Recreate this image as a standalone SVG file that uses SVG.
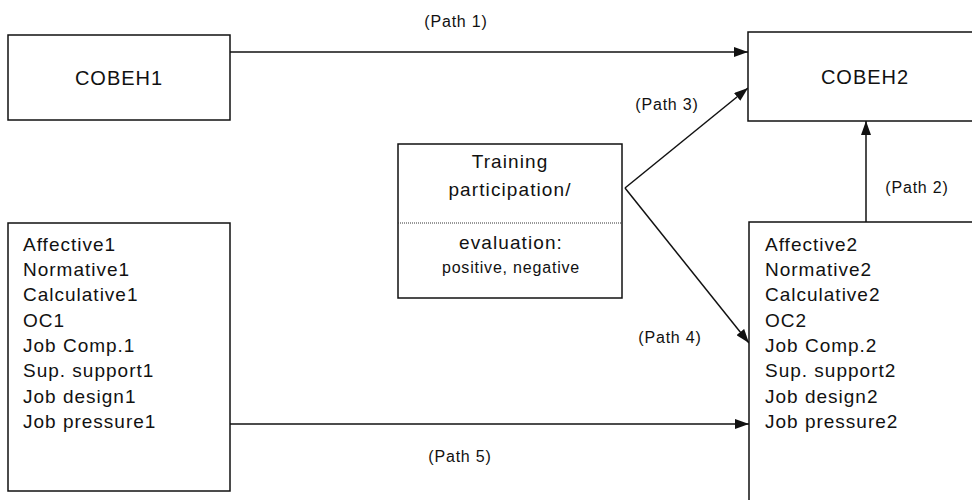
<svg xmlns="http://www.w3.org/2000/svg" width="972" height="500" viewBox="0 0 972 500">
  <style>
    .box { fill: #fff; stroke: #111; stroke-width: 1.5; }
    .t { font-family: "Liberation Sans", Arial, sans-serif; fill: #111; }
    .big { font-size: 20px; letter-spacing: 1px; }
    .mid { font-size: 19px; letter-spacing: 1.1px; }
    .lst { font-size: 19px; letter-spacing: 1px; }
    .lbl { font-size: 16px; letter-spacing: 0.8px; }
    .sm { font-size: 16px; letter-spacing: 0.8px; }
    .edge { stroke: #111; stroke-width: 1.5; fill: none; marker-end: url(#ah); }
  </style>
  <defs>
    <marker id="ah" viewBox="0 0 14 10" refX="14" refY="5" markerWidth="14" markerHeight="10" markerUnits="userSpaceOnUse" orient="auto">
      <path d="M0,0 L14,5 L0,10 Z" fill="#111"/>
    </marker>
  </defs>

  <rect width="972" height="500" fill="#fff"/>

  <g id="connectors">
    <line class="edge" x1="230" y1="52" x2="748" y2="52"/>
    <line class="edge" x1="866" y1="222" x2="866" y2="121"/>
    <line class="edge" x1="625" y1="188" x2="748" y2="88"/>
    <line class="edge" x1="625" y1="188" x2="749" y2="343"/>
    <line class="edge" x1="230" y1="424" x2="749" y2="424"/>
    <text class="t lbl" x="456" y="27" text-anchor="middle">(Path 1)</text>
    <text class="t lbl" x="917" y="193" text-anchor="middle">(Path 2)</text>
    <text class="t lbl" x="667" y="110" text-anchor="middle">(Path 3)</text>
    <text class="t lbl" x="670" y="343" text-anchor="middle">(Path 4)</text>
    <text class="t lbl" x="460" y="462" text-anchor="middle">(Path 5)</text>
  </g>

  <g id="cobeh1">
    <rect class="box" x="8" y="35" width="222" height="85"/>
    <text class="t big" x="119" y="85" text-anchor="middle">COBEH1</text>
  </g>

  <g id="cobeh2">
    <rect class="box" x="748" y="32" width="240" height="89"/>
    <text class="t big" x="865" y="84" text-anchor="middle">COBEH2</text>
  </g>

  <g id="training">
    <rect class="box" x="398" y="144" width="224" height="154"/>
    <line x1="398" y1="223" x2="622" y2="223" stroke="#333" stroke-width="1" stroke-dasharray="1,1"/>
    <text class="t mid" x="510" y="168" text-anchor="middle">Training</text>
    <text class="t mid" x="510" y="196" text-anchor="middle">participation/</text>
    <text class="t mid" x="511" y="249" text-anchor="middle">evaluation:</text>
    <text class="t sm" x="511" y="273" text-anchor="middle">positive, negative</text>
  </g>

  <g id="time1">
    <rect class="box" x="8" y="223" width="222" height="268"/>
    <text class="t lst" x="23" y="251">Affective1</text>
    <text class="t lst" x="23" y="276">Normative1</text>
    <text class="t lst" x="23" y="301">Calculative1</text>
    <text class="t lst" x="23" y="327">OC1</text>
    <text class="t lst" x="23" y="352">Job Comp.1</text>
    <text class="t lst" x="23" y="377">Sup. support1</text>
    <text class="t lst" x="23" y="403">Job design1</text>
    <text class="t lst" x="23" y="428">Job pressure1</text>
  </g>

  <g id="time2">
    <rect class="box" x="749" y="222" width="240" height="300"/>
    <text class="t lst" x="765" y="251">Affective2</text>
    <text class="t lst" x="765" y="276">Normative2</text>
    <text class="t lst" x="765" y="301">Calculative2</text>
    <text class="t lst" x="765" y="327">OC2</text>
    <text class="t lst" x="765" y="352">Job Comp.2</text>
    <text class="t lst" x="765" y="377">Sup. support2</text>
    <text class="t lst" x="765" y="403">Job design2</text>
    <text class="t lst" x="765" y="428">Job pressure2</text>
  </g>
</svg>
